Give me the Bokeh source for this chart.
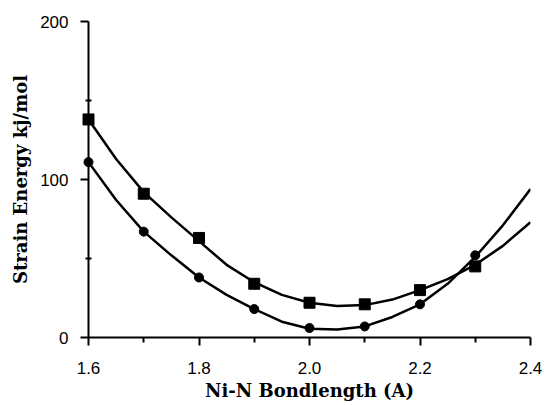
from bokeh.plotting import figure
from bokeh.models import Range1d, FixedTicker
from bokeh.embed import file_html
from bokeh.resources import INLINE

# Data
x_pts = [1.6, 1.7, 1.8, 1.9, 2.0, 2.1, 2.2, 2.3]
square_vals = [138, 91, 63, 34, 22, 21, 30, 45]
circle_vals = [111, 67, 38, 18, 6, 7, 21, 52]

# Smooth fitted curves
curve_x = [1.6, 1.65, 1.7, 1.75, 1.8, 1.85, 1.9, 1.95, 2.0, 2.05, 2.1, 2.15, 2.2, 2.25, 2.3, 2.35, 2.4]
square_curve = [138, 113, 92, 76, 61, 46, 35, 27, 22, 20, 20.5, 24, 30, 37, 46, 58, 73]
circle_curve = [111, 87, 67, 52, 38, 27, 18, 10, 5.5, 5, 7, 13, 21, 34, 51, 71, 94]

x_ticks = [1.6, 1.8, 2.0, 2.2, 2.4]
x_minor = [1.7, 1.9, 2.1, 2.3]
y_ticks = [0, 100, 200]
y_minor = [50, 150]

p = figure(width=546, height=405, output_backend="svg", toolbar_location=None,
           x_range=Range1d(1.6, 2.4), y_range=Range1d(0, 200),
           min_border_left=88, min_border_right=16, min_border_top=21, min_border_bottom=68)
p.outline_line_color = None
p.grid.grid_line_color = None
p.background_fill_color = "white"
p.border_fill_color = "white"

p.line(curve_x, square_curve, line_color="black", line_width=2.5)
p.line(curve_x, circle_curve, line_color="black", line_width=2.5)
r1 = p.scatter(x_pts, square_vals, marker="square", size=11, color="black")
r2 = p.scatter(x_pts, circle_vals, marker="circle", size=9, color="black")
r1.level = "overlay"
r2.level = "overlay"

p.xaxis.ticker = FixedTicker(ticks=x_ticks, minor_ticks=x_minor)
p.yaxis.ticker = FixedTicker(ticks=y_ticks, minor_ticks=y_minor)
p.xaxis.major_label_overrides = {1.6: "1.6", 1.8: "1.8", 2.0: "2.0", 2.2: "2.2", 2.4: "2.4"}

for ax in (p.xaxis[0], p.yaxis[0]):
    ax.axis_line_width = 2
    ax.axis_line_color = "black"
    ax.major_tick_line_width = 2
    ax.minor_tick_line_width = 2
    ax.major_tick_line_color = "black"
    ax.minor_tick_line_color = "black"
    ax.major_label_text_font = "Liberation Sans"
    ax.major_label_text_font_size = "17px"
    ax.major_label_text_color = "black"
    ax.axis_label_text_font = "DejaVu Serif"
    ax.axis_label_text_font_style = "bold"
    ax.axis_label_text_font_size = "18px"
    ax.axis_label_text_color = "black"

p.xaxis.axis_label = "Ni-N Bondlength (A)"
p.yaxis.axis_label = "Strain Energy kj/mol"

p.xaxis.major_tick_out = 8
p.xaxis.major_tick_in = 0
p.xaxis.minor_tick_out = 5
p.xaxis.minor_tick_in = 0
p.xaxis.major_label_standoff = 16
p.xaxis.axis_label_standoff = 3

p.yaxis.major_tick_out = 8
p.yaxis.major_tick_in = 0
p.yaxis.minor_tick_out = 3
p.yaxis.minor_tick_in = 3
p.yaxis.major_label_standoff = 12
p.yaxis.axis_label_standoff = 6

open("out.html", "w").write(file_html(p, INLINE))
